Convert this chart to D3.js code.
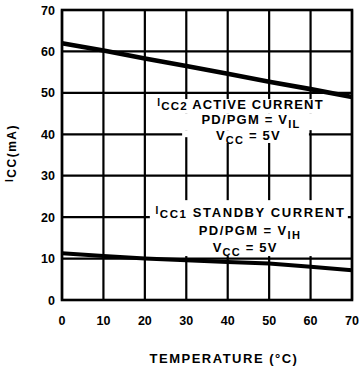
<!DOCTYPE html>
<html>
<head>
<meta charset="utf-8">
<script src="https://cdn.jsdelivr.net/npm/d3@7"></script>
<style>
  html, body { margin: 0; padding: 0; background: #fff; }
  svg { display: block; }
  text { font-family: "Liberation Sans", Arial, sans-serif; font-weight: bold; fill: #000; }
</style>
</head>
<body>
<svg id="chart" width="359" height="369"></svg>
<script>
// Supply current vs. temperature
const temperatures   = [0, 10, 20, 30, 40, 50, 60, 70];
const activeCurrent  = [62.0, 60.2, 58.3, 56.5, 54.6, 52.7, 50.9, 49.0];
const standbyCurrent = [11.3, 10.6, 10.0, 9.6, 9.2, 8.8, 8.0, 7.2];
const xTickValues = [0, 10, 20, 30, 40, 50, 60, 70];
const yTickValues = [0, 10, 20, 30, 40, 50, 60, 70];
const xTitle = "TEMPERATURE (°C)";

const svg = d3.select("#chart");
const margin = { left: 62, right: 7, top: 10, bottom: 69 };
const W = 359, H = 369;

const x = d3.scaleLinear().domain([0, 70]).range([margin.left, W - margin.right]);
const y = d3.scaleLinear().domain([0, 70]).range([H - margin.bottom, margin.top]);

// grid
const grid = svg.append("g");
grid.selectAll("line.v").data(xTickValues).join("line")
  .attr("x1", d => x(d)).attr("x2", d => x(d))
  .attr("y1", y(0)).attr("y2", y(70))
  .attr("stroke", "#000").attr("stroke-width", 2.2);
grid.selectAll("line.h").data(yTickValues).join("line")
  .attr("y1", d => y(d)).attr("y2", d => y(d))
  .attr("x1", x(0)).attr("x2", x(70))
  .attr("stroke", "#000").attr("stroke-width", 2.2);

// white label backgrounds, in data units [x0, x1, yTop, yBottom]
const labelBackgrounds = [
  [21.2, 69.3, 48.5, 45.1],
  [29.0, 60.6, 45.1, 41.0],
  [29.0, 59.6, 41.0, 39.3],
  [33.3, 57.4, 39.3, 37.9],
  [21.2, 69.0, 24.1, 10.6]
];
svg.append("g").selectAll("rect").data(labelBackgrounds).join("rect")
  .attr("x", d => x(d[0])).attr("width", d => x(d[1]) - x(d[0]))
  .attr("y", d => y(d[2])).attr("height", d => y(d[3]) - y(d[2]))
  .attr("fill", "#fff");

// border
svg.append("rect")
  .attr("x", x(0)).attr("y", y(70))
  .attr("width", x(70) - x(0)).attr("height", y(0) - y(70))
  .attr("fill", "none").attr("stroke", "#000").attr("stroke-width", 2.6);

// curves
const line = d3.line().x((d, i) => x(temperatures[i])).y(d => y(d));
svg.append("path").datum(activeCurrent).attr("d", line)
  .attr("fill", "none").attr("stroke", "#000").attr("stroke-width", 4.6);
svg.append("path").datum(standbyCurrent).attr("d", line)
  .attr("fill", "none").attr("stroke", "#000").attr("stroke-width", 4);

// tick labels
svg.append("g").selectAll("text").data(yTickValues).join("text")
  .attr("x", 55).attr("y", d => y(d)).attr("dy", "0.36em")
  .attr("text-anchor", "end").attr("font-size", 12.5).text(d => d);
svg.append("g").selectAll("text").data(xTickValues).join("text")
  .attr("x", d => x(d)).attr("y", 320).attr("dy", "0.36em")
  .attr("text-anchor", "middle").attr("font-size", 12.5).text(d => d);

// axis titles
svg.append("text")
  .attr("x", 224).attr("y", 358).attr("dy", "0.36em")
  .attr("text-anchor", "middle").attr("font-size", 13)
  .attr("letter-spacing", 1.5).text(xTitle);

const yt = svg.append("text")
  .attr("transform", "translate(14,153) rotate(-90)")
  .attr("text-anchor", "middle").attr("font-size", 12)
  .attr("letter-spacing", 1.5);
yt.append("tspan").attr("font-size", 10).attr("dy", -1).text("I");
yt.append("tspan").attr("dy", 3).text("CC(mA)");

// curve annotations
function annotation(cx, lines) {
  lines.forEach(l => {
    const t = svg.append("text")
      .attr("x", x(cx + l.dx)).attr("y", y(l.y))
      .attr("text-anchor", "middle").attr("font-size", 13)
      .attr("letter-spacing", l.ls);
    l.parts.forEach(p => {
      t.append("tspan").attr("font-size", p.size || 13).attr("dy", p.dy || 0).text(p.t);
    });
  });
}

annotation(45, [
  { y: 46.0, dx: -1.9, ls: 1.2, parts: [
    { t: "I", size: 10, dy: -3 }, { t: "CC2", size: 11.5, dy: 4 }, { t: " ACTIVE CURRENT", dy: -1 } ] },
  { y: 42.5, dx: 0.6, ls: 1.2, parts: [
    { t: "PD/PGM = V" }, { t: "IL", size: 11, dy: 4 } ] },
  { y: 38.6, dx: 0, ls: 1.2, parts: [
    { t: "V" }, { t: "CC", size: 11, dy: 4 }, { t: " = 5V", dy: -4 } ] }
]);

annotation(45, [
  { y: 20.0, dx: 0.5, ls: 1.6, parts: [
    { t: "I", size: 10, dy: -3 }, { t: "CC1", size: 11.5, dy: 4 }, { t: " STANDBY CURRENT", dy: -1 } ] },
  { y: 15.7, dx: 0.4, ls: 1.4, parts: [
    { t: "PD/PGM = V" }, { t: "IH", size: 11, dy: 4 } ] },
  { y: 11.6, dx: -0.8, ls: 1.2, parts: [
    { t: "V" }, { t: "CC", size: 11, dy: 4 }, { t: " = 5V", dy: -4 } ] }
]);
</script>
</body>
</html>
